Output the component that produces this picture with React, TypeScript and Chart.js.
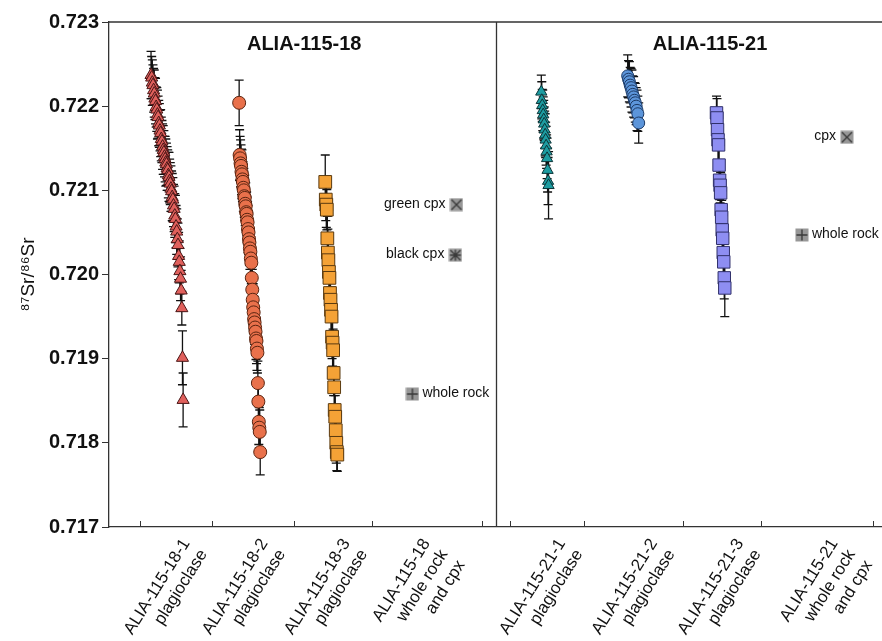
import React, { useEffect, useRef } from 'react';
import { Chart, registerables } from 'chart.js';

Chart.register(...registerables);

// ---------- data ----------
const categoryLabels: string[][] = [
  ['ALIA-115-18-1', 'plagioclase'],
  ['ALIA-115-18-2', 'plagioclase'],
  ['ALIA-115-18-3', 'plagioclase'],
  ['ALIA-115-18', 'whole rock', 'and cpx'],
  ['ALIA-115-21-1', 'plagioclase'],
  ['ALIA-115-21-2', 'plagioclase'],
  ['ALIA-115-21-3', 'plagioclase'],
  ['ALIA-115-21', 'whole rock', 'and cpx'],
];

const panelTitles = ['ALIA-115-18', 'ALIA-115-21'];

const s18_1 = [
  0.72237, 0.72234, 0.72228, 0.72225, 0.72219, 0.72215, 0.72209, 0.72206, 0.72199, 0.72196,
  0.7219, 0.72187, 0.7218, 0.72177, 0.72171, 0.72168, 0.72161, 0.72158, 0.72152, 0.72148,
  0.72145, 0.7214, 0.72137, 0.72133, 0.72131, 0.72126, 0.72124, 0.72118, 0.72116, 0.72111,
  0.72108, 0.72102, 0.72099, 0.72092, 0.72089, 0.72082, 0.72078, 0.7207, 0.72066, 0.72057,
  0.72051, 0.72042, 0.72035, 0.72022, 0.72015, 0.72004, 0.71995, 0.71981, 0.7196, 0.71901,
  0.71851,
];
const s18_1Err = [
  0.00028, 0.00025, 0.00027, 0.00024, 0.00026, 0.00028, 0.00025, 0.00027, 0.00024, 0.00026,
  0.00029, 0.00025, 0.00027, 0.00026, 0.00024, 0.00028, 0.00026, 0.00025, 0.00027, 0.00029,
  0.00026, 0.00024, 0.00027, 0.00028, 0.00025, 0.00026, 0.00024, 0.00027, 0.00029, 0.00026,
  0.00025, 0.00027, 0.00024, 0.00028, 0.00026, 0.00025, 0.00027, 0.00026, 0.00028, 0.00025,
  0.00027, 0.00024, 0.00026, 0.00028, 0.00025, 0.00027, 0.00026, 0.00024, 0.0002, 0.00032,
  0.00032,
];

const s18_2 = [
  0.72204, 0.72142, 0.72138, 0.72132, 0.72129, 0.72122, 0.72119, 0.72113, 0.7211, 0.72103,
  0.721, 0.72093, 0.72091, 0.72084, 0.72081, 0.72074, 0.72072, 0.72065, 0.72062, 0.72054,
  0.7205, 0.72042, 0.72038, 0.72031, 0.72027, 0.72019, 0.72014, 0.71996, 0.71982, 0.7197,
  0.71961, 0.71955, 0.71947, 0.71943, 0.71937, 0.71932, 0.71924, 0.71921, 0.71912, 0.71907,
  0.71871, 0.71849, 0.71825, 0.71818, 0.71813, 0.71789,
];
const s18_2Err = [
  0.00027, 0.0003, 0.00026, 0.00028, 0.00025, 0.00027, 0.00029, 0.00026, 0.00024, 0.00028,
  0.00026, 0.00025, 0.00027, 0.00026, 0.00028, 0.00024, 0.00026, 0.00027, 0.00025, 0.00028,
  0.00026, 0.00024, 0.00027, 0.00025, 0.00028, 0.00026, 0.00025, 0.00027, 0.00024, 0.00026,
  0.00028, 0.00025, 0.00027, 0.00026, 0.00024, 0.00028, 0.00025, 0.00027, 0.00026, 0.00024,
  0.00026, 0.00025, 0.00027, 0.00024, 0.00026, 0.00027,
];

const s18_3 = [
  0.7211, 0.72089, 0.72083, 0.72077, 0.72043, 0.72026, 0.72017, 0.72003, 0.71996, 0.71978,
  0.7197, 0.71958, 0.7195, 0.71926, 0.71919, 0.7191, 0.71883, 0.71866, 0.71839, 0.71831,
  0.71815, 0.718, 0.71789, 0.71786,
];
const s18_3Err = [
  0.00032, 0.00025, 0.00027, 0.00024, 0.00026, 0.00028, 0.00025, 0.00027, 0.00024, 0.00026,
  0.00025, 0.00027, 0.00024, 0.00026, 0.00028, 0.00025, 0.00027, 0.00024, 0.00026, 0.00025,
  0.00027, 0.00024, 0.00022, 0.0002,
];

const s21_1 = [
  0.72217, 0.72207, 0.72201, 0.72195, 0.7219, 0.72184, 0.72179, 0.72172, 0.72166, 0.7216,
  0.72153, 0.72146, 0.72138, 0.72124, 0.72111, 0.72106,
];
const s21_1Err = [
  0.0002, 0.00022, 0.00019, 0.00024, 0.00021, 0.00023, 0.0002, 0.00022, 0.00025, 0.00021,
  0.00023, 0.0002, 0.00024, 0.00026, 0.00028, 0.0004,
];

const s21_2 = [
  0.72236, 0.72232, 0.72229, 0.72225, 0.72222, 0.72218, 0.72214, 0.72211, 0.72207, 0.72204,
  0.722, 0.72195, 0.72191, 0.7218,
];
const s21_2Err = [
  0.00025, 0.00022, 0.00024, 0.00021, 0.00023, 0.00025, 0.00022, 0.00024, 0.00021, 0.00023,
  0.00022, 0.00024, 0.00021, 0.00024,
];

const s21_3 = [
  0.72192, 0.72186, 0.72172, 0.7216, 0.72154, 0.7213, 0.72112, 0.72106, 0.72097, 0.72077,
  0.72068, 0.72053, 0.72043, 0.72026, 0.72015, 0.71996, 0.71984,
];
const s21_3Err = [
  0.0002, 0.00023, 0.00021, 0.00024, 0.00022, 0.0002, 0.00023, 0.00021, 0.00024, 0.00022,
  0.0002, 0.00023, 0.00021, 0.00024, 0.00022, 0.00025, 0.00034,
];

const refNames18 = ['green cpx', 'black cpx', 'whole rock'];
const refValues18 = [0.72083, 0.72023, 0.71858];
const refNames21 = ['cpx', 'whole rock'];
const refValues21 = [0.72163, 0.72047];

// ---------- layout (x positions in axis units, styles) ----------
const X_MIN = 0;
const X_MAX = 8;
const PANEL_DIVIDER = 4;
const tickMarkPositions = [0.321, 1.067, 1.917, 2.725, 3.865, 4.155, 4.912, 5.938, 6.746, 7.907];
const labelAnchors = [0.8, 1.608, 2.458, 3.287, 4.686, 5.639, 6.531, 7.505];
const titleCenters = [2.02, 6.22];

const refX18 = [3.596, 3.585, 3.14];
const refMarks18 = ['crossRot', 'star', 'cross'];
const refSide18 = ['left', 'left', 'right'];
const refX21 = [7.637, 7.171];
const refMarks21 = ['crossRot', 'cross'];
const refSide21 = ['left', 'right'];

const seriesDefs = [
  { label: 'ALIA-115-18-1 plagioclase', values: s18_1, errors: s18_1Err, from: 0.435, to: 0.767, style: 'triangle', radius: 7, fill: '#e0605c', stroke: '#4a1616' },
  { label: 'ALIA-115-18-2 plagioclase', values: s18_2, errors: s18_2Err, from: 1.347, to: 1.565, style: 'circle', radius: 6.5, fill: '#e9714b', stroke: '#5a2410' },
  { label: 'ALIA-115-18-3 plagioclase', values: s18_3, errors: s18_3Err, from: 2.238, to: 2.363, style: 'rect', radius: 9, fill: '#f4a236', stroke: '#5a3a10' },
  { label: 'ALIA-115-21-1 plagioclase', values: s21_1, errors: s21_1Err, from: 4.474, to: 4.549, style: 'triangle', radius: 6.5, fill: '#1d9ca1', stroke: '#0b3538' },
  { label: 'ALIA-115-21-2 plagioclase', values: s21_2, errors: s21_2Err, from: 5.368, to: 5.482, style: 'circle', radius: 6, fill: '#5c95da', stroke: '#1c3a66' },
  { label: 'ALIA-115-21-3 plagioclase', values: s21_3, errors: s21_3Err, from: 6.287, to: 6.373, style: 'rect', radius: 8.8, fill: '#8e8ef2', stroke: '#30306a' },
];

const FONT = '"Liberation Sans", Arial, Helvetica, sans-serif';
const AXIS_COLOR = '#333';

function makeMarker(kind: string): HTMLCanvasElement {
  const c = document.createElement('canvas');
  c.width = 14;
  c.height = 14;
  const g = c.getContext('2d')!;
  g.fillStyle = '#979797';
  g.fillRect(0.5, 0.5, 13, 13);
  g.strokeStyle = '#3a3a3a';
  g.lineWidth = 1.4;
  g.beginPath();
  if (kind === 'crossRot' || kind === 'star') {
    g.moveTo(2, 2); g.lineTo(12, 12);
    g.moveTo(12, 2); g.lineTo(2, 12);
  }
  if (kind === 'cross' || kind === 'star') {
    g.moveTo(7, 1.5); g.lineTo(7, 12.5);
    g.moveTo(1.5, 7); g.lineTo(12.5, 7);
  }
  g.stroke();
  return c;
}

export default function App() {
  const ref = useRef<HTMLCanvasElement | null>(null);

  useEffect(() => {
    if (!ref.current) return;

    const datasets: any[] = seriesDefs.map((s) => ({
      label: s.label,
      data: s.values.map((v, i) => ({
        x: s.from + ((s.to - s.from) * i) / Math.max(1, s.values.length - 1),
        y: v,
      })),
      pointStyle: s.style,
      pointRadius: s.radius,
      pointBackgroundColor: s.fill,
      pointBorderColor: s.stroke,
      pointBorderWidth: 1,
      showLine: false,
    }));
    const errorSets: (number[] | null)[] = seriesDefs.map((s) => s.errors);

    const refSets = [
      { names: refNames18, values: refValues18, xs: refX18, marks: refMarks18, sides: refSide18 },
      { names: refNames21, values: refValues21, xs: refX21, marks: refMarks21, sides: refSide21 },
    ];
    refSets.forEach((r, k) => {
      datasets.push({
        label: k === 0 ? 'ALIA-115-18 whole rock and cpx' : 'ALIA-115-21 whole rock and cpx',
        data: r.values.map((v, i) => ({ x: r.xs[i], y: v })),
        pointStyle: r.marks.map((m) => makeMarker(m)),
        pointRadius: 7,
        showLine: false,
      });
      errorSets.push(null);
    });

    const decor = {
      id: 'decor',
      beforeDatasetsDraw(chart: any) {
        const { ctx, scales } = chart;
        const xs = scales.x;
        const ys = scales.y;
        ctx.save();
        ctx.strokeStyle = '#111';
        ctx.lineWidth = 1.3;
        chart.data.datasets.forEach((ds: any, di: number) => {
          const errs = errorSets[di];
          if (!errs) return;
          ds.data.forEach((p: any, i: number) => {
            const px = xs.getPixelForValue(p.x);
            const top = ys.getPixelForValue(p.y + errs[i]);
            const bot = ys.getPixelForValue(p.y - errs[i]);
            ctx.beginPath();
            ctx.moveTo(px, top);
            ctx.lineTo(px, bot);
            ctx.moveTo(px - 4.5, top);
            ctx.lineTo(px + 4.5, top);
            ctx.moveTo(px - 4.5, bot);
            ctx.lineTo(px + 4.5, bot);
            ctx.stroke();
          });
        });
        ctx.restore();
      },
      afterDraw(chart: any) {
        const { ctx, chartArea, scales } = chart;
        const xs = scales.x;
        const ys = scales.y;
        ctx.save();
        ctx.strokeStyle = AXIS_COLOR;
        ctx.lineWidth = 1.3;
        ctx.beginPath();
        ctx.moveTo(chartArea.left, chartArea.top);
        ctx.lineTo(chartArea.right, chartArea.top);
        const dx = Math.round(xs.getPixelForValue(PANEL_DIVIDER)) + 0.5;
        ctx.moveTo(dx, chartArea.top);
        ctx.lineTo(dx, chartArea.bottom);
        ctx.stroke();
        ctx.lineWidth = 1;
        ctx.beginPath();
        tickMarkPositions.forEach((v) => {
          const px = Math.round(xs.getPixelForValue(v)) + 0.5;
          ctx.moveTo(px, chartArea.bottom);
          ctx.lineTo(px, chartArea.bottom - 6);
        });
        ctx.stroke();
        ctx.fillStyle = '#111';
        ctx.font = `bold 20px ${FONT}`;
        ctx.textAlign = 'center';
        ctx.textBaseline = 'middle';
        panelTitles.forEach((t, i) => {
          ctx.fillText(t, xs.getPixelForValue(titleCenters[i]), chartArea.top + 22);
        });
        ctx.font = `14px ${FONT}`;
        refSets.forEach((r) => {
          r.names.forEach((n, i) => {
            const px = xs.getPixelForValue(r.xs[i]);
            const py = ys.getPixelForValue(r.values[i]);
            if (r.sides[i] === 'left') {
              ctx.textAlign = 'right';
              ctx.fillText(n, px - 11, py - 1);
            } else {
              ctx.textAlign = 'left';
              ctx.fillText(n, px + 10, py - 1);
            }
          });
        });
        ctx.restore();
      },
    };

    const chart = new Chart(ref.current, {
      type: 'scatter',
      data: { datasets },
      plugins: [decor],
      options: {
        responsive: false,
        animation: false,
        events: [],
        layout: { autoPadding: false, padding: { top: 22, right: 0, left: 0, bottom: 0 } },
        plugins: {
          legend: { display: false },
          tooltip: { enabled: false },
          title: { display: false },
        },
        scales: {
          x: {
            type: 'linear',
            min: X_MIN,
            max: X_MAX,
            afterBuildTicks: (s: any) => {
              s.ticks = labelAnchors.map((v) => ({ value: v }));
            },
            afterFit: (s: any) => {
              s.height = 114;
              s.paddingLeft = 0;
              s.paddingRight = 0;
            },
            grid: { display: false },
            border: { display: true, color: AXIS_COLOR, width: 1.3 },
            ticks: {
              autoSkip: false,
              minRotation: 58,
              maxRotation: 58,
              padding: 0,
              color: '#111',
              font: { family: FONT, size: 17 },
              callback: (_v: any, i: number) => categoryLabels[i],
            },
          },
          y: {
            type: 'linear',
            min: 0.717,
            max: 0.723,
            afterFit: (s: any) => {
              s.width = 109;
            },
            ticks: {
              stepSize: 0.001,
              padding: 3,
              color: '#111',
              font: { family: FONT, size: 20, weight: 'bold' },
              callback: (v: any) => Number(v).toFixed(3),
            },
            grid: { drawOnChartArea: false, drawTicks: true, tickLength: 7, color: AXIS_COLOR },
            border: { display: true, color: AXIS_COLOR, width: 1.3 },
            title: {
              display: true,
              text: '⁸⁷Sr/⁸⁶Sr',
              color: '#111',
              font: { family: FONT, size: 19 },
              padding: { top: 17, bottom: 0 },
            },
          },
        },
      } as any,
    });

    return () => chart.destroy();
  }, []);

  return (
    <div style={{ position: 'absolute', left: 0, top: 0, width: 882, height: 641, background: '#fff' }}>
      <canvas ref={ref} width={882} height={641} style={{ display: 'block' }} />
    </div>
  );
}
